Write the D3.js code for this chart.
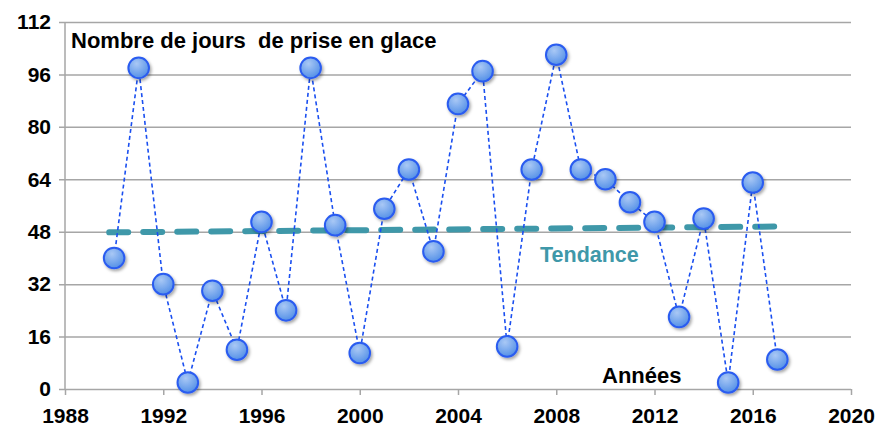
<!DOCTYPE html>
<html>
<head>
<meta charset="utf-8">
<script src="https://cdn.jsdelivr.net/npm/d3@7"></script>
<style>
  body { margin: 0; background: #fff; }
  text { font-family: "Liberation Sans", Arial, sans-serif; font-weight: bold; }
</style>
</head>
<body>
<svg id="viz" width="879" height="428"></svg>
<script>
// Nombre de jours de prise en glace

var years = [1990, 1991, 1992, 1993, 1994, 1995, 1996, 1997, 1998, 1999,
    2000, 2001, 2002, 2003, 2004, 2005, 2006, 2007, 2008, 2009,
    2010, 2011, 2012, 2013, 2014, 2015, 2016, 2017];
var days = [40, 98, 32, 2, 30, 12, 51, 24, 98, 50,
    11, 55, 67, 42, 87, 97, 13, 67, 102, 67,
    64, 57, 51, 22, 52, 2, 63, 9];
var trendYears = [1989.8, 2017.3];
var trendValues = [47.8, 49.6];
var xTicks = [1988, 1992, 1996, 2000, 2004, 2008, 2012, 2016, 2020];
var yTicks = [0, 16, 32, 48, 64, 80, 96, 112];

var svg = d3.select("#viz");

var x = d3.scaleLinear().domain([1988, 2020]).range([65, 851]);
var y = d3.scaleLinear().domain([0, 112]).range([389, 22]);

// defs: gradient + shadow for the markers
var defs = svg.append("defs");
var grad = defs.append("radialGradient")
    .attr("id", "ball")
    .attr("cx", "40%").attr("cy", "30%").attr("r", "75%");
grad.append("stop").attr("offset", "0%").attr("stop-color", "#a9c8f5");
grad.append("stop").attr("offset", "100%").attr("stop-color", "#4f8de6");

var filter = defs.append("filter").attr("id", "shadow")
    .attr("x", "-50%").attr("y", "-50%").attr("width", "200%").attr("height", "200%");
filter.append("feDropShadow")
    .attr("dx", 1.5).attr("dy", 2).attr("stdDeviation", 1.5)
    .attr("flood-color", "#000").attr("flood-opacity", 0.35);

// grid lines
var yAxis = d3.axisLeft(y)
    .tickValues(yTicks)
    .tickSize(-(851 - 65))
    .tickPadding(14)
    .tickFormat(d3.format("d"));

var gy = svg.append("g")
    .attr("transform", "translate(65,0)")
    .call(yAxis);
gy.select(".domain").remove();
gy.selectAll(".tick line")
    .attr("x1", -6)
    .attr("stroke", "#a6a6a6")
    .attr("stroke-width", 1.5);
gy.selectAll(".tick text")
    .attr("fill", "#000")
    .style("font-size", "21px");

// y axis line
svg.append("line")
    .attr("x1", x(1988)).attr("x2", x(1988))
    .attr("y1", y(112)).attr("y2", y(0))
    .attr("stroke", "#a6a6a6").attr("stroke-width", 1.5);

var xAxis = d3.axisBottom(x)
    .tickValues(xTicks)
    .tickSize(6)
    .tickPadding(13)
    .tickFormat(d3.format("d"));

var gx = svg.append("g")
    .attr("transform", `translate(0,${y(0)})`)
    .call(xAxis);
gx.select(".domain").remove();
gx.selectAll(".tick line")
    .attr("stroke", "#a6a6a6")
    .attr("stroke-width", 1.5);
gx.selectAll(".tick text")
    .attr("fill", "#000")
    .style("font-size", "21px");

// trend line
svg.append("line")
    .attr("x1", x(trendYears[0])).attr("y1", y(trendValues[0]))
    .attr("x2", x(trendYears[1])).attr("y2", y(trendValues[1]))
    .attr("stroke", "#3f98a9")
    .attr("stroke-width", 6)
    .attr("stroke-linecap", "round")
    .attr("stroke-dasharray", "19,15");

// series line
var line = d3.line()
    .x((d, i) => x(years[i]))
    .y(d => y(d));

svg.append("path")
    .datum(days)
    .attr("d", line)
    .attr("fill", "none")
    .attr("stroke", "#1a4ff0")
    .attr("stroke-width", 1.6)
    .attr("stroke-dasharray", "4,3");

// markers
svg.append("g")
    .selectAll("circle")
    .data(days)
    .enter()
    .append("circle")
    .attr("cx", (d, i) => x(years[i]))
    .attr("cy", d => y(d))
    .attr("r", 10.3)
    .attr("fill", "url(#ball)")
    .attr("stroke", "#2a5cf0")
    .attr("stroke-width", 2)
    .attr("filter", "url(#shadow)");

// labels
svg.append("text")
    .attr("x", 71).attr("y", 48)
    .style("font-size", "22px")
    .attr("fill", "#000")
    .attr("xml:space", "preserve")
    .text("Nombre de jours  de prise en glace");

svg.append("text")
    .attr("x", 540).attr("y", 262)
    .style("font-size", "21.5px")
    .attr("fill", "#3f98a9")
    .text("Tendance");

svg.append("text")
    .attr("x", 602).attr("y", 383)
    .style("font-size", "22px")
    .attr("fill", "#000")
    .text("Années");
</script>
</body>
</html>
